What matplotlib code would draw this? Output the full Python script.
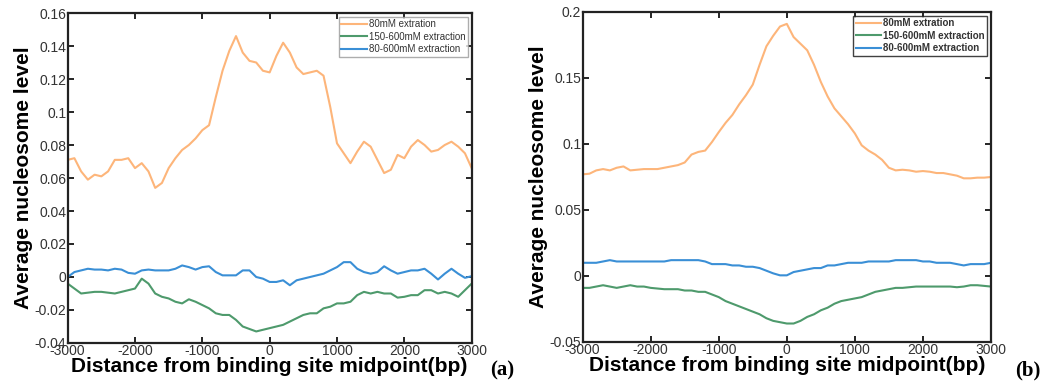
import numpy as np
import matplotlib
matplotlib.use("Agg")
import matplotlib.pyplot as plt

# distance from binding site midpoint (bp), shared grid for both panels
dist = np.arange(-3000, 3001, 100)

# panel (a)
a_80 = [0.071, 0.072, 0.064, 0.059, 0.062, 0.061, 0.064, 0.071, 0.071, 0.072,
        0.066, 0.069, 0.064, 0.054, 0.057, 0.066, 0.072, 0.077, 0.080, 0.084,
        0.089, 0.092, 0.109, 0.125, 0.137, 0.146, 0.136, 0.131, 0.130, 0.125,
        0.124, 0.134, 0.142, 0.136, 0.127, 0.123, 0.124, 0.125, 0.122, 0.103,
        0.081, 0.075, 0.069, 0.076, 0.082, 0.079, 0.071, 0.063, 0.065, 0.074,
        0.072, 0.079, 0.083, 0.080, 0.076, 0.077, 0.080, 0.082, 0.079, 0.075,
        0.066]
a_150_600 = [-0.004, -0.007, -0.010, -0.0095, -0.009, -0.009, -0.0095, -0.010, -0.009, -0.008,
             -0.007, -0.001, -0.004, -0.010, -0.012, -0.013, -0.015, -0.016, -0.0135, -0.015,
             -0.017, -0.019, -0.022, -0.023, -0.023, -0.026, -0.030, -0.0315, -0.033, -0.032,
             -0.031, -0.030, -0.029, -0.027, -0.025, -0.023, -0.022, -0.022, -0.019, -0.018,
             -0.016, -0.016, -0.015, -0.011, -0.009, -0.010, -0.009, -0.010, -0.010, -0.0125,
             -0.012, -0.011, -0.011, -0.008, -0.008, -0.010, -0.009, -0.010, -0.012, -0.008,
             -0.004]
a_80_600 = [0.000, 0.003, 0.004, 0.005, 0.0045, 0.0045, 0.004, 0.005, 0.0045, 0.0025,
            0.002, 0.004, 0.0045, 0.004, 0.004, 0.004, 0.005, 0.007, 0.006, 0.0045,
            0.006, 0.0065, 0.003, 0.001, 0.001, 0.001, 0.004, 0.004, 0.000, -0.001,
            -0.003, -0.003, -0.002, -0.005, -0.002, -0.001, 0.000, 0.001, 0.002, 0.004,
            0.006, 0.009, 0.009, 0.005, 0.003, 0.002, 0.003, 0.0065, 0.004, 0.002,
            0.003, 0.004, 0.004, 0.005, 0.002, -0.0015, 0.002, 0.005, 0.002, -0.0005,
            0.0005]

# panel (b)
b_80 = [0.077, 0.0775, 0.080, 0.081, 0.080, 0.082, 0.083, 0.080, 0.0805, 0.081,
        0.081, 0.081, 0.082, 0.083, 0.084, 0.086, 0.092, 0.094, 0.095, 0.1015,
        0.109, 0.116, 0.122, 0.130, 0.137, 0.145, 0.160, 0.174, 0.182, 0.189,
        0.191, 0.181, 0.176, 0.171, 0.160, 0.147, 0.136, 0.127, 0.121, 0.115,
        0.108, 0.099, 0.095, 0.092, 0.088, 0.082, 0.080, 0.0805, 0.080, 0.079,
        0.0795, 0.079, 0.078, 0.078, 0.077, 0.076, 0.074, 0.074, 0.0745, 0.0745,
        0.075]
b_150_600 = [-0.009, -0.009, -0.008, -0.007, -0.008, -0.009, -0.008, -0.007, -0.008, -0.008,
             -0.009, -0.0095, -0.010, -0.010, -0.010, -0.011, -0.011, -0.012, -0.012, -0.014,
             -0.016, -0.019, -0.021, -0.023, -0.025, -0.027, -0.029, -0.032, -0.034, -0.035,
             -0.036, -0.036, -0.034, -0.031, -0.029, -0.026, -0.024, -0.021, -0.019, -0.018,
             -0.017, -0.016, -0.014, -0.012, -0.011, -0.010, -0.009, -0.009, -0.0085, -0.008,
             -0.008, -0.008, -0.008, -0.008, -0.008, -0.0085, -0.008, -0.007, -0.007, -0.0075,
             -0.008]
b_80_600 = [0.010, 0.010, 0.010, 0.011, 0.012, 0.011, 0.011, 0.011, 0.011, 0.011,
            0.011, 0.011, 0.011, 0.012, 0.012, 0.012, 0.012, 0.012, 0.011, 0.009,
            0.009, 0.009, 0.008, 0.008, 0.007, 0.007, 0.006, 0.004, 0.002, 0.0005,
            0.0005, 0.003, 0.004, 0.005, 0.006, 0.006, 0.008, 0.008, 0.009, 0.010,
            0.010, 0.010, 0.011, 0.011, 0.011, 0.011, 0.012, 0.012, 0.012, 0.012,
            0.011, 0.011, 0.010, 0.010, 0.010, 0.009, 0.008, 0.009, 0.009, 0.009,
            0.010]

labels = ['80mM extration', '150-600mM extraction', '80-600mM extraction']
colors = ['#fdb57a', '#4e9a6c', '#3a8fd6']
xticks = [-3000, -2000, -1000, 0, 1000, 2000, 3000]
a_yticks = [-0.04, -0.02, 0, 0.02, 0.04, 0.06, 0.08, 0.1, 0.12, 0.14, 0.16]
a_yticklabels = ['-0.04', '-0.02', '0', '0.02', '0.04', '0.06', '0.08', '0.1', '0.12', '0.14', '0.16']
b_yticks = [-0.05, 0, 0.05, 0.1, 0.15, 0.2]
b_yticklabels = ['-0.05', '0', '0.05', '0.1', '0.15', '0.2']

plt.rcParams['font.family'] = ['Liberation Sans', 'DejaVu Sans']

fig = plt.figure(figsize=(10.54, 3.87), dpi=100)
ax1 = fig.add_axes([0.0642, 0.1137, 0.3833, 0.8527])
ax2 = fig.add_axes([0.5528, 0.1163, 0.3874, 0.8527])


def draw(ax, series, yticks, yticklabels, ylim, bold_legend, legend_edge):
    for vals, lab, c in zip(series, labels, colors):
        ax.plot(dist, vals, color=c, lw=1.5, label=lab)
    ax.set_xlim(-3000, 3000)
    ax.set_ylim(*ylim)
    ax.set_xticks(xticks)
    ax.set_xticklabels([str(t) for t in xticks])
    ax.set_yticks(yticks)
    ax.set_yticklabels(yticklabels)
    ax.tick_params(direction='in', top=True, right=True, length=4, width=1.2,
                   labelsize=10, labelcolor='#333333', pad=1)
    for s in ax.spines.values():
        s.set_linewidth(1.6)
        s.set_color('#222222')
    ax.set_xlabel('Distance from binding site midpoint(bp)', fontsize=15,
                  fontweight='bold', labelpad=-1)
    ax.set_ylabel('Average nucleosome level', fontsize=15, fontweight='bold',
                  labelpad=1)
    leg = ax.legend(loc='upper right', fontsize=7, frameon=True, fancybox=False,
                    handlelength=2.6, handletextpad=0.2, borderpad=0.25,
                    labelspacing=0.25, borderaxespad=0.4,
                    prop={'weight': 'bold' if bold_legend else 'normal', 'size': 7})
    leg.get_frame().set_edgecolor(legend_edge)
    leg.get_frame().set_linewidth(1.0)
    for t in leg.get_texts():
        t.set_color('#333333')


draw(ax1, [a_80, a_150_600, a_80_600], a_yticks, a_yticklabels, (-0.04, 0.16), False, '#999999')
draw(ax2, [b_80, b_150_600, b_80_600], b_yticks, b_yticklabels, (-0.05, 0.2), True, '#111111')

fig.text(502 / 1054, 1 - 370 / 387, '(a)', fontsize=15, fontweight='bold',
         family='Liberation Serif', ha='center', va='center')
fig.text(1028 / 1054, 1 - 370 / 387, '(b)', fontsize=15, fontweight='bold',
         family='Liberation Serif', ha='center', va='center')

fig.savefig('out.png', dpi=100)
